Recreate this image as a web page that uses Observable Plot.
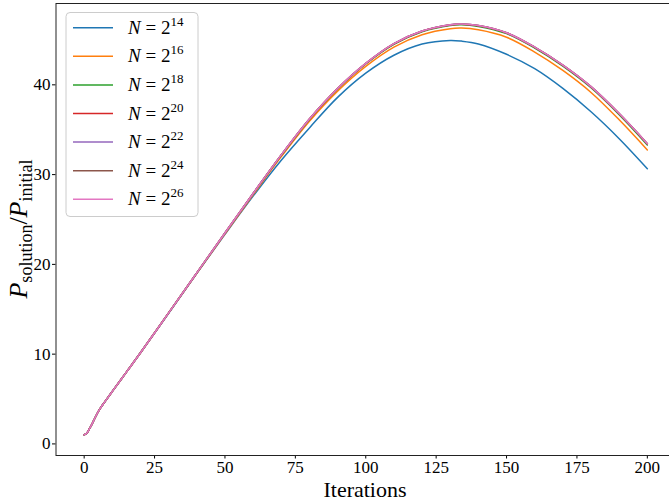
<!DOCTYPE html>
<html><head><meta charset="utf-8">
<script src="https://cdn.jsdelivr.net/npm/d3@7"></script>
<script src="https://cdn.jsdelivr.net/npm/@observablehq/plot@0.6"></script>
<style>
html,body{margin:0;padding:0;background:#fff;}
#chart svg{display:block;}
</style>
</head><body><div id="chart"></div>
<script>
// ---- data ----
const iterations = [0,1,2,3,4,5,6,7,10,15,20,30,40,50,60,70,80,90,100,110,120,130,134,140,150,160,170,180,190,200];
const n14 = [1.0,1.22,1.75,2.35,3.0,3.6,4.1,4.55,5.85,8.0,10.15,14.55,19.0,23.35,27.6,31.6,35.2,38.6,41.3,43.3,44.55,44.95,44.87,44.55,43.4,41.8,39.6,37.0,34.0,30.65];
const n16 = [1.0,1.22,1.75,2.35,3.0,3.6,4.1,4.55,5.85,8.0,10.15,14.6,19.0,23.4,27.75,32.0,35.95,39.3,42.05,44.2,45.58,46.25,46.32,46.13,45.3,43.65,41.6,39.15,36.1,32.75];
const n18 = [1.0,1.22,1.75,2.35,3.0,3.6,4.1,4.55,5.85,8.0,10.15,14.6,19.04,23.48,27.87,32.15,36.15,39.54,42.33,44.52,45.92,46.62,46.69,46.51,45.7,44.09,42.08,39.67,36.67,33.3];
const n20 = [1.0,1.22,1.75,2.35,3.0,3.6,4.1,4.55,5.85,8.0,10.15,14.6,19.05,23.5,27.9,32.19,36.19,39.58,42.37,44.57,45.97,46.67,46.74,46.57,45.77,44.17,42.17,39.77,36.77,33.42];
const n22 = [1.0,1.22,1.75,2.35,3.0,3.6,4.1,4.55,5.85,8.0,10.15,14.6,19.05,23.5,27.9,32.2,36.2,39.6,42.4,44.6,46.0,46.7,46.77,46.6,45.8,44.2,42.2,39.8,36.8,33.45];
const n24 = [1.0,1.22,1.75,2.35,3.0,3.6,4.1,4.55,5.85,8.0,10.15,14.6,19.05,23.5,27.9,32.2,36.2,39.6,42.4,44.6,46.0,46.7,46.77,46.6,45.8,44.2,42.2,39.8,36.8,33.45];
const n26 = [1.0,1.22,1.75,2.35,3.0,3.6,4.1,4.55,5.85,8.0,10.15,14.6,19.05,23.5,27.9,32.2,36.2,39.6,42.4,44.6,46.0,46.7,46.77,46.6,45.8,44.2,42.2,39.8,36.8,33.45];
const exponents = ["14","16","18","20","22","24","26"];
const colors = ["#1f77b4","#ff7f0e","#2ca02c","#d62728","#9467bd","#8c564b","#e377c2"];
const xTicks = [0,25,50,75,100,125,150,175,200];
const yTicks = [0,10,20,30,40];

const seriesValues = [n14,n16,n18,n20,n22,n24,n26];
const seriesNames = exponents.map(e => "N=2^" + e);
const data = seriesValues.flatMap((vals, i) =>
  vals.map((v, j) => ({iter: iterations[j], value: v, series: seriesNames[i]})));

const FONT = "'Liberation Serif', 'DejaVu Serif', serif";

const chart = Plot.plot({
  width: 669,
  height: 504,
  marginLeft: 55.5,
  marginRight: -6,
  marginTop: 3,
  marginBottom: 49,
  style: {fontFamily: FONT, fontSize: "17px", background: "#fff", color: "#000", overflow: "hidden"},
  x: {domain: [-10, 210], ticks: xTicks, tickSize: 3.5, tickPadding: 2, label: null, tickFormat: d => String(d)},
  y: {domain: [-1.29, 49.06], ticks: yTicks, tickSize: 3.5, tickPadding: 2, label: null, tickFormat: d => String(d)},
  color: {domain: seriesNames, range: colors},
  marks: [
    Plot.line(data, {x: "iter", y: "value", z: "series", stroke: "series", strokeWidth: 1.5, curve: "catmull-rom"}),
    Plot.frame({stroke: "#222", strokeWidth: 1})
  ]
});
document.getElementById("chart").appendChild(chart);

const svg = d3.select(chart);

// x label
svg.append("text")
  .attr("x", 365).attr("y", 497)
  .attr("text-anchor", "middle")
  .style("font-family", FONT).style("font-size", "22px").attr("fill", "#000")
  .text("Iterations");

// y label: P_solution / P_initial
const yl = svg.append("text")
  .attr("transform", "translate(27,229) rotate(-90)")
  .attr("text-anchor", "middle")
  .style("font-family", FONT).style("font-size", "26px").attr("fill", "#000");
yl.append("tspan").style("font-style", "italic").text("P");
yl.append("tspan").attr("dy", 5).style("font-size", "18px").text("solution");
yl.append("tspan").attr("dy", -5).text("/");
yl.append("tspan").style("font-style", "italic").text("P");
yl.append("tspan").attr("dy", 5).style("font-size", "18px").text("initial");

// legend
const lg = svg.append("g");
lg.append("rect")
  .attr("x", 66).attr("y", 12.5).attr("width", 132).attr("height", 204).attr("rx", 4)
  .attr("fill", "#fff").attr("fill-opacity", 0.8).attr("stroke", "#cccccc").attr("stroke-width", 1);
exponents.forEach((e, i) => {
  const yy = 27.7 + i * 28.6;
  lg.append("line").attr("x1", 73).attr("x2", 113).attr("y1", yy).attr("y2", yy)
    .attr("stroke", colors[i]).attr("stroke-width", 1.5);
  const t = lg.append("text").attr("x", 128).attr("y", yy + 6)
    .attr("text-anchor", "start")
    .style("font-family", FONT).style("font-size", "19px").attr("fill", "#000");
  t.append("tspan").style("font-style", "italic").text("N");
  t.append("tspan").text(" = 2");
  t.append("tspan").attr("dy", -8).style("font-size", "13px").text(e);
});
</script>
</body></html>
